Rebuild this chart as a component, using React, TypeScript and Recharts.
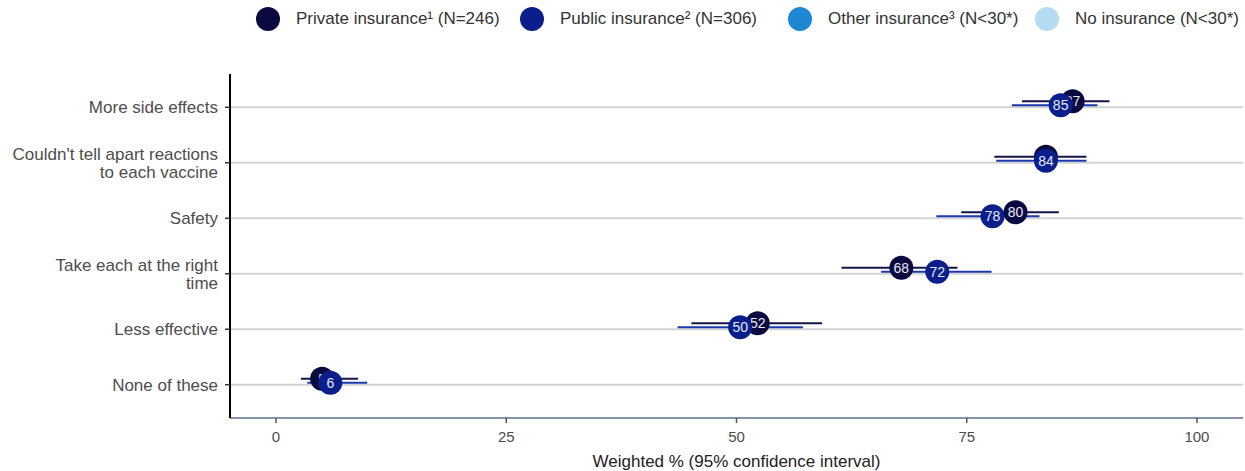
import { ErrorBar, ReferenceLine, Scatter, ScatterChart, XAxis, YAxis } from 'recharts';

const categories = [
  'More side effects',
  "Couldn't tell apart reactions\nto each vaccine",
  'Safety',
  'Take each at the right\ntime',
  'Less effective',
  'None of these',
];

// Private insurance (N=246)
const privateValues = [86.5, 83.6, 80.3, 67.9, 52.3, 5.0];
const privateLow = [81.0, 78.0, 74.4, 61.4, 45.1, 2.7];
const privateHigh = [90.5, 88.0, 85.0, 74.0, 59.3, 8.9];

// Public insurance (N=306)
const publicValues = [85.2, 83.6, 77.8, 71.8, 50.4, 5.9];
const publicLow = [79.9, 78.2, 71.7, 65.7, 43.6, 3.4];
const publicHigh = [89.2, 88.0, 82.9, 77.7, 57.2, 9.9];

const xTicks = [0, 25, 50, 75, 100];
const yTicks = [1, 2, 3, 4, 5, 6];

const legendItems = [
  { name: 'Private insurance¹ (N=246)', color: '#0a0a40', left: 256 },
  { name: 'Public insurance² (N=306)', color: '#0b1f8c', left: 520 },
  { name: 'Other insurance³ (N<30*)', color: '#1f86d6', left: 788 },
  { name: 'No insurance (N<30*)', color: '#b3dbf2', left: 1035 },
];

const W = 1245;
const H = 471;
const FONT = '"Liberation Sans", Arial, sans-serif';

// small vertical dodge between the two groups, in category units
const PRIVATE_DODGE = 0.108;
const PUBLIC_DODGE = 0.036;

const buildRows = (vals: number[], lo: number[], hi: number[], dodge: number) =>
  vals.map((v, i) => ({
    x: v,
    y: categories.length - i + dodge,
    err: [v - lo[i], hi[i] - v],
    label: Math.round(v),
  }));

const privateRows = buildRows(privateValues, privateLow, privateHigh, PRIVATE_DODGE);
const publicRows = buildRows(publicValues, publicLow, publicHigh, PUBLIC_DODGE);

const makeDot = (fill: string) => (props: any) => {
  const { cx, cy, payload } = props;
  return (
    <g>
      <circle cx={cx} cy={cy} r={12} fill={fill} />
      <text
        x={cx}
        y={cy}
        dy="0.35em"
        textAnchor="middle"
        fill="#e6e8f2"
        fontSize={14}
        fontFamily={FONT}
      >
        {payload.label}
      </text>
    </g>
  );
};

const noShape = () => <g />;

function CategoryTick({ x, y, payload }: any) {
  const label = categories[categories.length - payload.value] ?? '';
  const lines = label.split('\n');
  const lh = 18;
  return (
    <text x={x} y={y} textAnchor="end" fill="#4d4d4d" fontSize={17} fontFamily={FONT}>
      {lines.map((line, i) => (
        <tspan key={i} x={x} dy={i === 0 ? -((lines.length - 1) * lh) / 2 + 6 : lh}>
          {line}
        </tspan>
      ))}
    </text>
  );
}

export default function App() {
  return (
    <div
      style={{
        position: 'absolute',
        left: 0,
        top: 0,
        width: W,
        height: H,
        background: '#fff',
        fontFamily: FONT,
      }}
    >
      {legendItems.map((item) => (
        <div
          key={item.name}
          style={{
            position: 'absolute',
            left: item.left,
            top: 7,
            height: 24,
            display: 'flex',
            alignItems: 'center',
            whiteSpace: 'nowrap',
          }}
        >
          <span
            style={{
              width: 24,
              height: 24,
              borderRadius: 12,
              background: item.color,
              display: 'inline-block',
              marginRight: 16,
            }}
          />
          <span style={{ fontSize: 17, color: '#333' }}>{item.name}</span>
        </div>
      ))}
      <ScatterChart width={W} height={H} margin={{ top: 74, right: 2, bottom: 0, left: 0 }}>
        <XAxis
          type="number"
          dataKey="x"
          domain={[-5, 105]}
          ticks={xTicks}
          allowDataOverflow
          height={53}
          axisLine={{ stroke: '#8593ab', strokeWidth: 2 }}
          tickLine={{ stroke: '#555', strokeWidth: 1.5 }}
          tickSize={5}
          tickMargin={8}
          tick={{ fill: '#4d4d4d', fontSize: 15, fontFamily: FONT }}
          label={{
            value: 'Weighted % (95% confidence interval)',
            position: 'insideBottom',
            offset: 4,
            fill: '#222',
            fontSize: 17,
            fontFamily: FONT,
          }}
        />
        <YAxis
          type="number"
          dataKey="y"
          domain={[0.4, 6.6]}
          ticks={yTicks}
          interval={0}
          allowDataOverflow
          width={230}
          axisLine={{ stroke: '#000', strokeWidth: 2 }}
          tickLine={{ stroke: '#333', strokeWidth: 1.5 }}
          tickSize={5}
          tickMargin={7}
          tick={<CategoryTick />}
        />
        {yTicks.map((t) => (
          <ReferenceLine key={t} y={t} stroke="#d3d3d3" strokeWidth={2} />
        ))}
        <Scatter data={privateRows} shape={noShape} isAnimationActive={false}>
          <ErrorBar dataKey="err" direction="x" width={0} stroke="#14144a" strokeWidth={2} />
        </Scatter>
        <Scatter data={publicRows} shape={noShape} isAnimationActive={false}>
          <ErrorBar dataKey="err" direction="x" width={0} stroke="#1b38ad" strokeWidth={2} />
        </Scatter>
        <Scatter data={privateRows} shape={makeDot('#0a0a40')} isAnimationActive={false} />
        <Scatter data={publicRows} shape={makeDot('#0b1f8c')} isAnimationActive={false} />
      </ScatterChart>
    </div>
  );
}
